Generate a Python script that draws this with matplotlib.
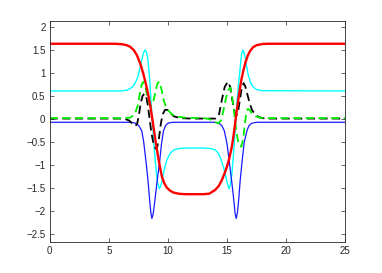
import numpy as np
import matplotlib
matplotlib.use('Agg')
import matplotlib.pyplot as plt
from matplotlib.ticker import FixedLocator, FuncFormatter

# thick red kink / antikink profile
red_x = [0, 5.5, 6.1, 6.5, 6.8, 7.1, 7.37, 7.65, 7.9, 8.1, 8.3, 8.5, 8.68, 8.85, 9.0,
         9.2, 9.35, 9.5, 9.7, 9.9, 10.2, 10.5, 11.0, 11.5, 13.0, 13.5, 13.99, 14.3,
         14.55, 14.8, 14.98, 15.2, 15.4, 15.55, 15.7, 15.85, 16.0, 16.2, 16.4, 16.55,
         16.75, 16.95, 17.2, 17.5, 18.0, 18.5, 25]
red_y = [1.635, 1.635, 1.625, 1.605, 1.57, 1.50, 1.39, 1.21, 1.00, 0.80, 0.57, 0.30,
         0.0, -0.30, -0.56, -0.87, -1.08, -1.26, -1.40, -1.49, -1.56, -1.60, -1.625,
         -1.632, -1.632, -1.62, -1.54, -1.45, -1.33, -1.17, -1.04, -0.84, -0.60,
         -0.35, -0.05, 0.25, 0.52, 0.85, 1.08, 1.23, 1.38, 1.48, 1.56, 1.605, 1.63,
         1.635, 1.635]

cyan_x = [0, 6.0, 6.5, 6.8, 7.08, 7.3, 7.5, 7.65, 7.8, 7.95, 8.07, 8.17, 8.27, 8.37,
          8.47, 8.58, 8.72, 8.86, 9.0, 9.12, 9.26, 9.37, 9.48, 9.62, 9.76, 9.95, 10.2,
          10.5, 10.9, 11.5, 13.0, 13.6, 14.0, 14.25, 14.45, 14.69, 14.85, 14.98, 15.08,
          15.17, 15.28, 15.4, 15.5, 15.6, 15.7, 15.82, 15.95, 16.1, 16.22, 16.33,
          16.43, 16.53, 16.65, 16.8, 17.0, 17.23, 17.5, 18.0, 25]
cyan_y = [0.61, 0.61, 0.625, 0.66, 0.72, 0.82, 0.95, 1.12, 1.30, 1.45, 1.50, 1.46,
          1.35, 1.12, 0.80, 0.34, -0.20, -0.70, -1.10, -1.38, -1.51, -1.47, -1.36,
          -1.18, -1.02, -0.86, -0.74, -0.67, -0.64, -0.63, -0.63, -0.64, -0.67, -0.74,
          -0.85, -1.04, -1.20, -1.35, -1.46, -1.51, -1.42, -1.20, -0.90, -0.55, -0.15,
          0.30, 0.72, 1.10, 1.40, 1.50, 1.45, 1.33, 1.14, 0.94, 0.78, 0.69, 0.64,
          0.615, 0.61]

blue_x = [0, 6.8, 7.1, 7.35, 7.55, 7.79, 7.95, 8.16, 8.3, 8.45, 8.55, 8.64, 8.75, 8.88,
          9.05, 9.28, 9.45, 9.62, 9.8, 10.0, 10.4, 14.0, 14.3, 14.55, 14.77, 15.0, 15.2,
          15.42, 15.58, 15.68, 15.77, 15.88, 15.98, 16.1, 16.25, 16.45, 16.67, 16.85,
          17.1, 17.5, 25]
blue_y = [-0.07, -0.07, -0.08, -0.10, -0.15, -0.26, -0.50, -0.96, -1.30, -1.75, -2.02,
          -2.16, -2.06, -1.80, -1.42, -0.96, -0.55, -0.26, -0.14, -0.09, -0.07, -0.07,
          -0.09, -0.14, -0.26, -0.55, -0.96, -1.42, -1.80, -2.06, -2.16, -2.02, -1.75,
          -1.35, -0.96, -0.50, -0.26, -0.14, -0.09, -0.07, -0.07]

black_x = [0, 6.3, 6.7, 7.0, 7.25, 7.4, 7.55, 7.7, 7.85, 8.0, 8.15, 8.3, 8.45, 8.6,
           8.75, 8.9, 9.0, 9.1, 9.25, 9.4, 9.55, 9.75, 9.95, 10.2, 10.5, 11.0, 12.0,
           14.0, 14.3, 14.55, 14.8, 15.06, 15.26, 15.45, 15.65, 15.8, 15.95, 16.1,
           16.25, 16.4, 16.55, 16.7, 16.9, 17.1, 17.4, 17.7, 18.2, 25]
black_y = [0.01, 0.01, -0.03, -0.10, -0.15, -0.10, 0.10, 0.35, 0.50, 0.55, 0.50, 0.30,
           0.0, -0.30, -0.50, -0.62, -0.65, -0.60, -0.40, -0.10, 0.10, 0.20, 0.20, 0.13,
           0.06, 0.02, 0.01, 0.01, 0.08, 0.41, 0.70, 0.81, 0.70, 0.40, 0.12, 0.08, 0.20,
           0.45, 0.70, 0.78, 0.70, 0.55, 0.35, 0.20, 0.09, 0.04, 0.01, 0.01]

green_x = [0, 6.0, 6.8, 7.2, 7.45, 7.65, 7.8, 7.93, 8.05, 8.25, 8.5, 8.75, 8.95, 9.12,
           9.28, 9.45, 9.65, 9.85, 10.04, 10.4, 10.8, 11.5, 13.0, 13.5, 14.0, 14.27,
           14.5, 14.7, 14.9, 15.1, 15.28, 15.45, 15.6, 15.75, 15.9, 16.05, 16.2, 16.35,
           16.5, 16.62, 16.75, 16.9, 17.1, 17.4, 17.8, 18.5, 25]
green_y = [0.02, 0.02, 0.03, 0.10, 0.30, 0.60, 0.76, 0.81, 0.75, 0.50, 0.28, 0.36,
           0.60, 0.78, 0.81, 0.65, 0.40, 0.25, 0.18, 0.09, 0.05, 0.03, 0.02, 0.0, -0.07,
           -0.09, -0.02, 0.20, 0.45, 0.63, 0.68, 0.45, 0.12, -0.20, -0.45, -0.58, -0.60,
           -0.45, -0.10, 0.12, 0.22, 0.20, 0.12, 0.06, 0.03, 0.02, 0.02]

x_ticks = [0, 5, 10, 15, 20, 25]
y_ticks = [-2.5, -2, -1.5, -1, -0.5, 0, 0.5, 1, 1.5, 2]

plt.rcParams['font.family'] = ['Liberation Sans', 'DejaVu Sans']

fig = plt.figure(figsize=(3.82, 2.73), dpi=100)
ax = fig.add_axes([0.13, 0.1136, 0.7742, 0.8113])

ax.plot(cyan_x, cyan_y, color='#00ffff', lw=1.0)
ax.plot(blue_x, blue_y, color='#1a1aff', lw=0.9)
ax.plot(black_x, black_y, color='k', lw=1.3, dashes=(4.5, 2.5))
ax.plot(green_x, green_y, color='#00ee00', lw=1.3, dashes=(4.5, 2.5))
ax.plot(red_x, red_y, color='#ff0000', lw=1.7)

ax.set_xlim(0, 25)
ax.set_ylim(-2.67, 2.14)
ax.xaxis.set_major_locator(FixedLocator(x_ticks))
ax.yaxis.set_major_locator(FixedLocator(y_ticks))
fmt = FuncFormatter(lambda v, pos: ('%g' % v).replace('-', '\u2212'))
ax.xaxis.set_major_formatter(fmt)
ax.yaxis.set_major_formatter(fmt)
ax.tick_params(direction='in', length=3, width=0.5, labelsize=7, colors='#262626',
               top=True, right=True, pad=3)
for s in ax.spines.values():
    s.set_linewidth(0.6)
    s.set_color('#262626')

fig.savefig('out.png', dpi=100)
